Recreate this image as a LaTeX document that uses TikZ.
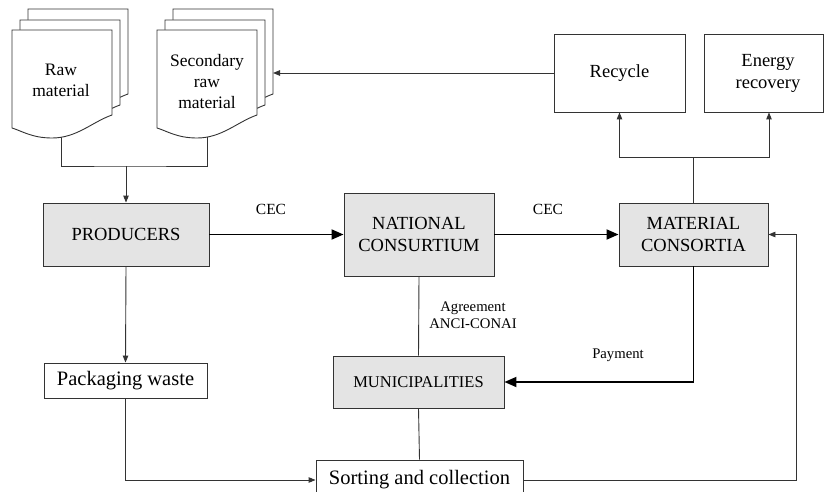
\documentclass[tikz,border=0pt]{standalone}
\usepackage{fontspec}
\setmainfont{Liberation Serif}
\usetikzlibrary{arrows.meta}
\pgfdeclarelayer{bg}
\pgfsetlayers{bg,main}
\definecolor{linegray}{HTML}{333333}
\definecolor{boxgray}{HTML}{E4E4E4}
\tikzset{
  docline/.style={draw=linegray, line width=0.9pt, fill=white},
  box/.style={draw=linegray, line width=0.9pt, fill=white, inner sep=0pt, align=center,
              font=\fontsize{18.5}{22}\selectfont},
  gbox/.style={box, fill=boxgray},
  thinline/.style={draw=linegray, line width=0.9pt},
  thinarrow/.style={thinline, -{Triangle[length=7pt,width=5.5pt]}},
  thickarrow/.style={draw=black, line width=1.8pt, -{Triangle[length=12pt,width=10pt]}},
  lbl/.style={inner sep=0pt, align=center, font=\fontsize{14.7}{17}\selectfont},
  doctext/.style={inner sep=0pt, align=center, font=\fontsize{17.5}{21}\selectfont}
}
\newcommand\mydocsheet[2]{%
  \begin{scope}[shift={(#1,#2)}]
    \path[docline] (0,0) -- (100,0) -- (100,85)
      .. controls (80,92) and (65,108) .. (40,108)
      .. controls (20,108) and (10,101) .. (0,98) -- cycle;
  \end{scope}}
\newcommand\mydocstack[2]{%
  \mydocsheet{#1+16}{#2-21}\mydocsheet{#1+8}{#2-10}\mydocsheet{#1}{#2}}
\begin{document}
\begin{tikzpicture}[x=1pt,y=-1pt]
\begin{pgfonlayer}{bg}
  \fill[white] (0,0) rectangle (824,492);
\end{pgfonlayer}
\useasboundingbox (0,0) rectangle (824,492);

% document stacks
\mydocstack{12}{30}
\mydocstack{157}{30}
\node[doctext] (raw) at (61,80) {Raw\\material};
\node[doctext] (sec) at (207,81.5) {Secondary\\raw\\material};
\coordinate (secedge) at (273,73);

% boxes
\node[gbox, minimum width=166pt, minimum height=63pt] (prod) at (126,234.5) {PRODUCERS};
\node[gbox, minimum width=150pt, minimum height=83pt] (nat) at (419,234.5) {NATIONAL\\CONSURTIUM};
\node[gbox, minimum width=149pt, minimum height=63pt] (mat) at (693.5,234.5) {MATERIAL\\CONSORTIA};
\node[gbox, minimum width=171pt, minimum height=52pt, font=\fontsize{16.5}{20}\selectfont] (muni) at (418.5,382) {MUNICIPALITIES};
\node[box, minimum width=163pt, minimum height=35pt, font=\fontsize{20.5}{24}\selectfont] (pack) at (125.5,380.5) {Packaging waste};
\node[box, minimum width=207pt, minimum height=40pt, font=\fontsize{20.5}{24}\selectfont] (sort) at (419.5,480) {Sorting and collection};
\node[box, minimum width=131pt, minimum height=78pt] (recycle) at (619.5,73) {Recycle};
\node[box, minimum width=119pt, minimum height=78pt] (energy) at (763.5,73) {};
\node[inner sep=0pt, align=center, font=\fontsize{18.5}{22}\selectfont] (energytxt) at (768,73) {Energy\\recovery};

% labels
\node[lbl, font=\fontsize{15.5}{18}\selectfont] (cec1) at (271,209) {CEC};
\node[lbl, font=\fontsize{15.5}{18}\selectfont] (cec2) at (548,209) {CEC};
\node[lbl] (agr) at (473,315.5) {Agreement\\ANCI-CONAI};
\node[lbl] (pay) at (618,355) {Payment};

% connectors from documents (under the sheets)
\coordinate (j) at (126,166);
\begin{pgfonlayer}{bg}
  \draw[thinline] (raw.south) |- (j) -| (sec.south);
\end{pgfonlayer}
\draw[thinarrow] (j) -- (prod.north);
\draw[thinarrow] (recycle.west) -- (secedge);

% main flow
\draw[thickarrow] (prod.east) -- (nat.west);
\draw[thickarrow] (nat.east) -- (mat.west);
\draw[thickarrow] (mat.south) |- (muni.east);
\draw[thinline] (nat.south) -- (muni.north);
\draw[thinline] (muni.south) -- (sort.north);
\draw[thinarrow] (prod.south) -- (pack.north);
\draw[thinarrow] (pack.south) |- (sort.west);
\draw[thinarrow] (sort.east) -- ++(272.5,0) |- (mat.east);

% to recycle / energy
\coordinate (m) at (693.5,157);
\draw[thinline] (mat.north) -- (m);
\draw[thinarrow] (m) -| (recycle.south);
\draw[thinarrow] (m) -| ([xshift=5.5pt]energy.south);
\end{tikzpicture}
\end{document}
